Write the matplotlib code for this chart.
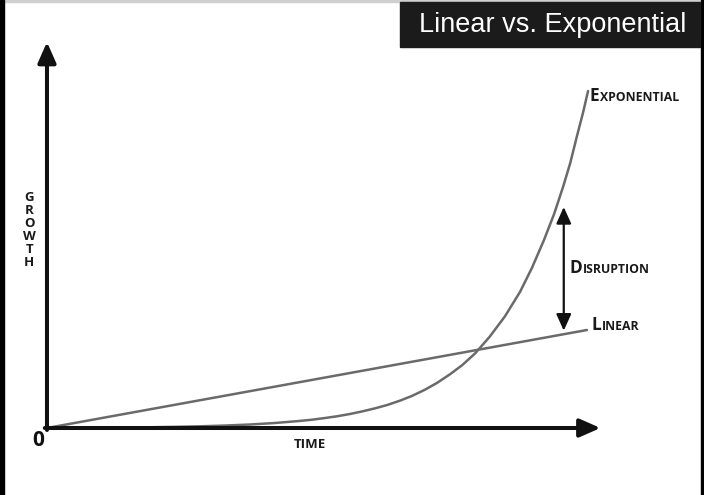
import matplotlib
matplotlib.use("Agg")
import matplotlib.pyplot as plt
from matplotlib.patches import FancyArrowPatch, Rectangle
from matplotlib.offsetbox import TextArea, HPacker, AnnotationBbox

# data (time units 0..10, growth units)
exp_time = [0, 0.98, 1.44, 1.91, 2.37, 2.83, 3.30, 3.76, 4.22, 4.69, 4.91, 5.15,
            5.37, 5.61, 5.83, 6.07, 6.30, 6.54, 6.76, 7.0, 7.22, 7.46, 7.69, 7.93,
            8.20, 8.48, 8.76, 8.98, 9.20, 9.39, 9.56, 9.69, 9.81, 9.93, 10.02]
exp_growth = [0, 0.026, 0.046, 0.074, 0.113, 0.168, 0.245, 0.35, 0.50, 0.71, 0.83,
              1.0, 1.17, 1.40, 1.65, 1.96, 2.30, 2.74, 3.21, 3.83, 4.5, 5.36, 6.29,
              7.47, 9.14, 11.16, 13.61, 16.0, 18.75, 21.38, 24.16, 26.5, 29.1, 31.6,
              33.7]
lin_time = [0, 10]
lin_growth = [0, 9.8]
disruption_t = 9.57
disruption_top = 22.1
title = "Linear vs. Exponential"

LINE_GRAY = '#6a6a6a'
INK = '#111111'
FONT = 'Open Sans'

fig = plt.figure(figsize=(7.04, 4.95), dpi=100)
ax = fig.add_axes([0, 0, 1, 1])
ax.set_xlim(-0.87, 12.167)
ax.set_ylim(-6.7, 42.8)
ax.axis('off')

# curves
ax.plot(exp_time, exp_growth, color=LINE_GRAY, lw=1.8, solid_capstyle='round',
        solid_joinstyle='round', zorder=3)
ax.plot(lin_time, lin_growth, color=LINE_GRAY, lw=1.8, solid_capstyle='round', zorder=3)

# axes arrows
for start, end in [((0, -0.2), (0, 38.6)), ((-0.04, 0), (10.25, 0))]:
    arr = FancyArrowPatch(start, end, arrowstyle='-|>,head_length=12.5,head_width=5.5',
                          mutation_scale=1, lw=2.9, color=INK, shrinkA=0, shrinkB=0,
                          zorder=4)
    ax.add_patch(arr)

# disruption arrow between the curves
lin_at = lin_growth[1] * disruption_t / lin_time[1]
arr = FancyArrowPatch((disruption_t, lin_at + 0.35), (disruption_t, disruption_top),
                      arrowstyle='<|-|>,head_length=10,head_width=4.5',
                      mutation_scale=1, lw=1.6, color=INK, shrinkA=0, shrinkB=0,
                      zorder=4)
ax.add_patch(arr)


def small_caps(text, xy, big=12.5, small=8.8):
    parts = [TextArea(text[0], textprops=dict(fontsize=big, fontweight='bold',
                                              family=FONT, color='#1a1a1a')),
             TextArea(text[1:], textprops=dict(fontsize=small, fontweight='bold',
                                               family=FONT, color='#1a1a1a'))]
    box = HPacker(children=parts, align='baseline', pad=0, sep=0.5)
    ab = AnnotationBbox(box, xy, xycoords='data', frameon=False,
                        box_alignment=(0, 0.5), pad=0)
    ax.add_artist(ab)


small_caps("EXPONENTIAL", (10.05, 33.2))
small_caps("DISRUPTION", (9.68, 16.0))
small_caps("LINEAR", (10.08, 10.3))

ax.text(-0.17, -1.2, "0", fontsize=15, fontweight='bold', family=FONT,
        ha='center', va='center', color=INK)
ax.text(4.87, -1.7, "TIME", fontsize=9.5, fontweight='bold', family=FONT,
        ha='center', va='center', color='#1a1a1a')
for i, ch in enumerate("GROWTH"):
    ax.text(-0.33, 23.05 - i * 1.3, ch, fontsize=9.5, fontweight='bold', family=FONT,
            ha='center', va='center', color='#1a1a1a')

# frame decorations
W, H = 704, 495
fig.patches.append(Rectangle((0, 0), 4 / W, 1, transform=fig.transFigure,
                             color='black', zorder=10))
fig.patches.append(Rectangle((700.5 / W, 0), 3.5 / W, 1, transform=fig.transFigure,
                             color='black', zorder=10))
fig.patches.append(Rectangle((0, 1 - 2 / H), 1, 2 / H, transform=fig.transFigure,
                             color='#cfcfcf', zorder=9))
fig.patches.append(Rectangle((400 / W, 1 - 47 / H), 300 / W, 45 / H,
                             transform=fig.transFigure, color='#1b1b1b', zorder=10))
fig.text(553 / W, 1 - 25 / H, title, color='white', fontsize=19.5,
         family='Liberation Sans', ha='center', va='center', zorder=11)

fig.savefig('out.png', dpi=100, facecolor='white')
